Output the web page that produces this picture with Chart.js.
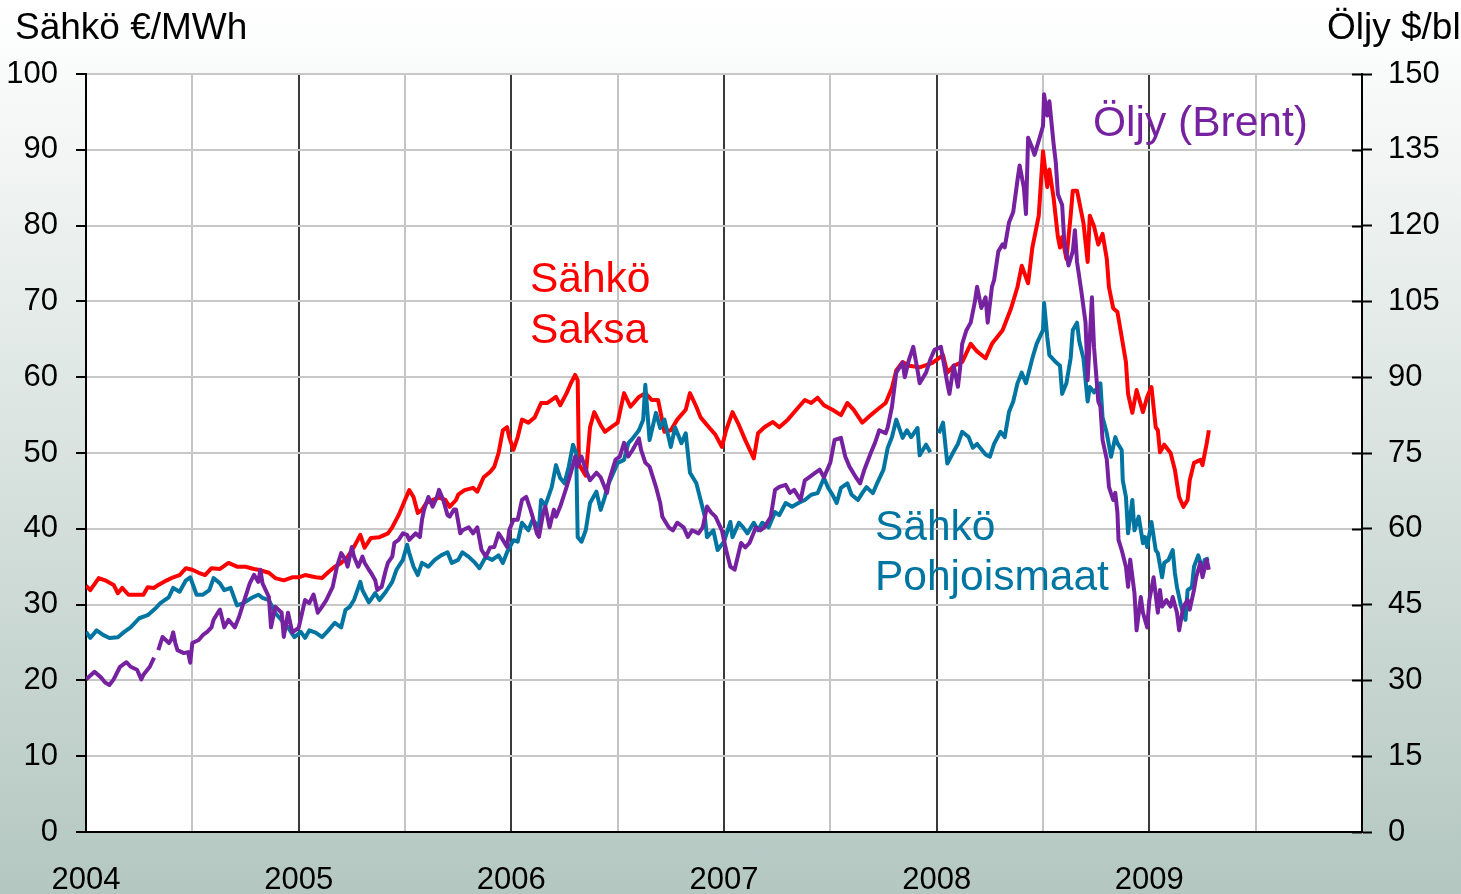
<!DOCTYPE html>
<html>
<head>
<meta charset="utf-8">
<script src="https://cdn.jsdelivr.net/npm/chart.js@4.4.1/dist/chart.umd.min.js"></script>
<style>
  html, body { margin: 0; padding: 0; }
  body {
    width: 1461px; height: 894px; overflow: hidden;
    background: linear-gradient(to bottom, #ffffff 0%, #b4c7c1 100%);
  }
</style>
</head>
<body>
<canvas id="kaavio" width="1461" height="894"></canvas>
<script>
// Sähkö Saksa, €/MWh
const saksaVuodet = [2004.00,2004.02,2004.06,2004.09,2004.13,2004.15,2004.17,2004.20,2004.24,2004.27,2004.29,2004.32,2004.34,2004.38,2004.41,2004.44,2004.47,2004.50,2004.53,2004.56,2004.59,2004.63,2004.67,2004.71,2004.75,2004.79,2004.81,2004.86,2004.89,2004.93,2004.97,
  2005.00,2005.03,2005.08,2005.11,2005.14,2005.17,2005.20,2005.23,2005.26,2005.29,2005.31,2005.34,2005.38,2005.42,2005.44,2005.47,2005.50,2005.52,2005.54,2005.56,2005.58,2005.60,2005.63,2005.66,2005.69,2005.71,2005.74,2005.75,2005.78,2005.82,2005.84,2005.87,2005.90,2005.92,2005.94,2005.96,2005.98,2005.99,
  2006.01,2006.03,2006.05,2006.08,2006.11,2006.14,2006.17,2006.21,2006.23,2006.26,2006.28,2006.30,2006.312,2006.318,2006.35,2006.37,2006.39,2006.42,2006.44,2006.47,2006.50,2006.53,2006.56,2006.60,2006.63,2006.66,2006.69,2006.72,2006.75,2006.78,2006.82,2006.84,2006.87,2006.89,2006.92,2006.96,2006.99,
  2007.01,2007.04,2007.07,2007.10,2007.14,2007.16,2007.19,2007.23,2007.26,2007.30,2007.34,2007.38,2007.41,2007.44,2007.47,2007.51,2007.55,2007.58,2007.61,2007.65,2007.69,2007.72,2007.76,2007.79,2007.81,2007.84,2007.87,2007.92,2007.98,
  2008.03,2008.05,2008.08,2008.12,2008.16,2008.19,2008.23,2008.26,2008.31,2008.35,2008.38,2008.40,2008.43,2008.45,2008.48,2008.50,2008.52,2008.53,2008.55,2008.57,2008.58,2008.59,2008.61,2008.63,2008.64,2008.66,2008.69,2008.71,2008.72,2008.74,2008.76,2008.78,2008.80,2008.81,2008.83,2008.85,2008.87,2008.89,2008.90,2008.92,2008.94,2008.97,2008.99,
  2009.01,2009.03,2009.04,2009.05,2009.07,2009.10,2009.12,2009.14,2009.16,2009.18,2009.19,2009.21,2009.24,2009.25,2009.27,2009.28];
const saksaArvot = [32.5,31.9,33.5,33.2,32.6,31.5,32.2,31.3,31.3,31.3,32.3,32.2,32.6,33.2,33.6,33.9,34.8,34.6,34.2,33.9,34.8,34.7,35.5,35.0,35.0,34.7,34.6,34.2,33.5,33.2,33.6,
  33.6,33.9,33.6,33.5,34.3,35.0,35.5,36.3,37.6,39.2,37.5,38.8,38.9,39.4,40.2,41.8,43.8,45.1,44.2,42.1,42.5,43.4,43.8,44.1,43.8,42.9,43.8,44.5,45.1,45.4,44.9,46.8,47.5,48.2,50.0,53.0,53.4,52.1,
  50.4,52.1,54.4,54.0,54.7,56.6,56.6,57.4,56.3,57.9,59.2,60.3,59.6,48.5,47.0,53.4,55.4,53.7,52.8,53.4,54.0,57.9,56.1,57.4,57.9,57.0,57.0,52.8,53.0,54.4,55.7,57.9,56.1,54.7,53.7,52.4,50.8,
  53.0,55.4,53.7,51.7,49.3,52.6,53.4,54.1,53.4,54.4,55.7,57.0,56.6,57.3,56.3,55.7,55.0,56.6,55.7,54.0,55.0,55.7,56.6,58.6,60.9,62.0,61.5,61.3,61.9,
  62.9,60.6,61.5,62.0,64.4,63.4,62.5,64.4,66.2,69.1,71.9,74.7,72.4,77.1,81.3,89.8,85.1,87.4,83.6,78.5,77.1,78.5,75.6,81.3,84.6,84.6,80.4,75.2,81.3,79.9,77.5,78.9,75.6,71.9,69.1,68.6,65.3,62.0,57.8,55.3,58.3,55.4,57.4,
  58.7,53.4,53.0,50.1,51.1,50.0,47.8,44.2,42.9,43.8,46.4,48.7,49.1,48.4,51.3,53.0];

// Sähkö Pohjoismaat, €/MWh
const pohjoisVuodet = [2004.00,2004.02,2004.05,2004.08,2004.11,2004.15,2004.18,2004.21,2004.25,2004.29,2004.33,2004.35,2004.39,2004.41,2004.44,2004.47,2004.49,2004.52,2004.55,2004.58,2004.60,2004.63,2004.65,2004.68,2004.71,2004.74,2004.78,2004.81,2004.83,2004.86,2004.89,2004.93,2004.95,2004.98,
  2005.01,2005.03,2005.05,2005.08,2005.11,2005.14,2005.17,2005.20,2005.22,2005.24,2005.26,2005.29,2005.30,2005.33,2005.36,2005.38,2005.41,2005.44,2005.46,2005.49,2005.51,2005.52,2005.54,2005.56,2005.58,2005.61,2005.64,2005.67,2005.70,2005.72,2005.75,2005.77,2005.80,2005.83,2005.85,2005.88,2005.91,2005.94,2005.96,2005.98,
  2006.01,2006.03,2006.05,2006.08,2006.10,2006.13,2006.14,2006.16,2006.19,2006.21,2006.23,2006.25,2006.27,2006.29,2006.305,2006.312,2006.33,2006.35,2006.37,2006.40,2006.42,2006.44,2006.45,2006.48,2006.50,2006.53,2006.55,2006.57,2006.60,2006.62,2006.63,2006.65,2006.68,2006.70,2006.72,2006.75,2006.77,2006.80,2006.82,2006.84,2006.87,2006.89,2006.91,2006.92,2006.95,2006.97,
  2007.00,2007.03,2007.04,2007.07,2007.09,2007.11,2007.14,2007.16,2007.18,2007.21,2007.24,2007.26,2007.29,2007.32,2007.35,2007.38,2007.41,2007.44,2007.47,2007.49,2007.51,2007.53,2007.55,2007.58,2007.60,2007.63,2007.65,2007.67,2007.70,2007.72,2007.75,2007.77,2007.79,2007.81,2007.84,2007.86,2007.88,2007.91,2007.92,2007.95,2007.97,2007.99,
  2008.01,2008.03,2008.05,2008.08,2008.10,2008.12,2008.15,2008.17,2008.19,2008.23,2008.25,2008.27,2008.30,2008.32,2008.34,2008.36,2008.38,2008.40,2008.42,2008.45,2008.47,2008.50,2008.505,2008.52,2008.53,2008.56,2008.58,2008.59,2008.61,2008.63,2008.64,2008.66,2008.67,2008.69,2008.71,2008.72,2008.74,2008.77,2008.78,2008.80,2008.82,2008.84,2008.85,2008.87,2008.875,2008.89,2008.90,2008.92,2008.93,2008.95,2008.97,2008.98,2008.99,
  2009.01,2009.03,2009.04,2009.06,2009.07,2009.09,2009.11,2009.12,2009.13,2009.15,2009.17,2009.18,2009.20,2009.21,2009.23,2009.25,2009.26,2009.28];
const pohjoisArvot = [26.4,25.6,26.6,26.0,25.6,25.7,26.4,27.0,28.2,28.6,29.6,30.2,31.0,32.2,31.7,33.2,33.6,31.3,31.3,31.9,33.5,32.8,31.9,32.2,29.9,30.2,30.9,31.3,30.9,30.6,28.9,27.6,27.0,25.7,
  26.4,25.6,26.6,26.3,25.7,26.6,27.6,27.0,29.3,29.7,30.6,33.0,31.9,30.3,31.5,30.6,31.7,33.0,34.6,35.9,37.9,36.8,35.0,33.9,35.5,35.0,35.9,36.5,36.9,35.5,35.9,36.9,36.3,35.5,34.8,36.3,35.9,36.5,35.5,36.9,
  38.5,38.3,40.8,39.8,41.2,40.2,43.8,43.1,45.5,48.4,46.7,46.0,48.2,51.1,50.0,38.9,38.3,39.8,43.4,44.9,42.5,44.2,45.5,47.4,48.7,49.1,51.3,51.9,53.0,54.4,59.0,51.7,55.3,53.3,54.4,50.8,53.4,51.3,52.6,47.4,46.0,43.8,41.6,38.9,39.8,37.2,
  38.3,40.9,38.9,40.8,40.2,39.4,40.8,39.8,40.8,40.2,42.2,41.8,43.4,42.9,43.4,43.8,44.5,44.7,46.7,45.4,44.5,43.4,45.4,46.0,44.5,43.8,44.7,45.5,44.7,46.0,47.8,50.7,52.1,54.4,52.0,53.0,52.1,53.3,49.7,51.1,50.1,null,
  52.6,54.0,48.6,50.2,51.2,52.8,52.1,50.7,51.2,49.8,49.5,51.2,52.8,52.1,55.4,56.8,59.2,60.6,59.2,62.5,64.4,66.2,69.8,65.3,62.9,62.0,61.5,57.8,59.2,62.5,66.2,67.2,64.8,62.5,56.8,58.7,58.0,59.2,54.7,52.6,49.5,52.1,51.3,50.4,46.4,44.2,39.4,43.8,39.8,41.6,38.1,38.9,37.6,
  40.9,37.2,36.8,33.6,35.5,35.9,37.2,34.2,32.3,29.7,28.0,31.9,32.3,35.0,36.5,34.6,35.9,36.1];

// Öljy (Brent), $/bl
const oljyVuodet = [2004.00,2004.04,2004.07,2004.09,2004.11,2004.13,2004.16,2004.19,2004.21,2004.24,2004.26,2004.27,2004.30,2004.32,2004.33,2004.34,2004.36,2004.39,2004.40,2004.41,2004.42,2004.43,2004.46,2004.48,2004.49,2004.50,2004.53,2004.55,2004.57,2004.59,2004.60,2004.62,2004.63,2004.65,2004.67,2004.70,2004.72,2004.74,2004.77,2004.79,2004.81,2004.82,2004.83,2004.86,2004.87,2004.89,2004.92,2004.93,2004.95,2004.97,
  2005.00,2005.03,2005.05,2005.07,2005.09,2005.11,2005.13,2005.16,2005.18,2005.20,2005.22,2005.23,2005.25,2005.26,2005.28,2005.30,2005.31,2005.33,2005.34,2005.36,2005.37,2005.39,2005.41,2005.42,2005.44,2005.45,2005.47,2005.49,2005.51,2005.52,2005.55,2005.57,2005.58,2005.59,2005.61,2005.63,2005.65,2005.66,2005.68,2005.70,2005.71,2005.73,2005.74,2005.76,2005.77,2005.80,2005.82,2005.84,2005.86,2005.88,2005.90,2005.92,2005.94,2005.96,2005.98,2005.99,
  2006.01,2006.03,2006.05,2006.07,2006.09,2006.10,2006.12,2006.13,2006.15,2006.16,2006.18,2006.20,2006.21,2006.23,2006.26,2006.28,2006.30,2006.31,2006.33,2006.35,2006.37,2006.40,2006.42,2006.45,2006.46,2006.49,2006.51,2006.53,2006.55,2006.57,2006.60,2006.61,2006.63,2006.65,2006.68,2006.70,2006.71,2006.74,2006.76,2006.78,2006.81,2006.83,2006.85,2006.88,2006.90,2006.92,2006.94,2006.96,2006.99,
  2007.01,2007.03,2007.05,2007.08,2007.10,2007.12,2007.15,2007.17,2007.19,2007.22,2007.24,2007.26,2007.29,2007.31,2007.33,2007.36,2007.38,2007.40,2007.43,2007.45,2007.47,2007.50,2007.52,2007.55,2007.57,2007.59,2007.62,2007.64,2007.66,2007.69,2007.71,2007.73,2007.76,2007.77,2007.79,2007.81,2007.84,2007.85,2007.87,2007.89,2007.91,2007.92,2007.95,2007.97,2007.99,
  2008.02,2008.05,2008.06,2008.08,2008.10,2008.11,2008.12,2008.14,2008.16,2008.18,2008.19,2008.21,2008.23,2008.24,2008.26,2008.27,2008.29,2008.31,2008.32,2008.34,2008.36,2008.38,2008.39,2008.41,2008.42,2008.43,2008.45,2008.46,2008.48,2008.50,2008.505,2008.52,2008.53,2008.55,2008.56,2008.57,2008.59,2008.60,2008.62,2008.64,2008.65,2008.66,2008.68,2008.70,2008.71,2008.73,2008.74,2008.76,2008.77,2008.78,2008.80,2008.81,2008.83,2008.84,2008.85,2008.855,2008.87,2008.89,2008.90,2008.91,2008.93,2008.94,2008.96,2008.97,2008.99,
  2009.00,2009.02,2009.04,2009.05,2009.06,2009.08,2009.10,2009.11,2009.13,2009.14,2009.16,2009.18,2009.19,2009.21,2009.22,2009.24,2009.25,2009.27,2009.28];
const oljyArvot = [30.2,31.7,30.6,29.6,29.1,30.2,32.7,33.6,32.7,32.1,30.2,31.1,32.7,34.5,null,36.0,38.6,37.4,38.0,39.5,37.4,36.0,35.4,35.6,33.5,37.4,38.0,39.0,39.6,40.5,42.0,43.4,44.0,40.5,42.0,40.5,42.6,45.3,49.2,50.9,49.5,51.9,49.2,46.5,40.5,44.6,43.4,38.6,43.4,39.5,
  40.4,45.9,45.3,47.0,43.4,44.6,45.9,48.5,52.5,55.2,53.9,52.5,56.4,54.5,52.5,54.5,53.3,51.9,51.3,49.8,47.9,48.5,51.9,53.3,54.5,57.2,57.8,59.1,58.8,57.8,59.1,58.4,61.8,63.8,66.3,64.4,66.3,67.7,65.7,62.7,62.4,63.8,63.8,59.1,59.7,60.3,59.1,60.3,55.8,54.5,56.3,56.4,59.1,57.8,56.4,59.7,
  61.8,61.8,65.7,66.3,63.8,62.4,59.1,58.4,63.2,64.4,60.3,63.8,62.4,64.4,68.3,71.1,74.3,72.3,74.3,71.7,69.6,71.1,70.2,67.1,69.6,73.7,74.3,77.0,74.3,75.6,77.9,75.6,73.1,72.3,68.3,65.1,62.4,60.3,59.7,61.2,60.3,58.4,59.7,59.1,60.3,64.4,63.2,62.4,59.7,
  55.8,52.5,51.9,57.2,56.3,57.2,60.3,59.7,60.3,62.4,67.7,68.3,68.7,67.1,67.7,65.7,69.6,70.2,71.1,71.7,70.2,73.1,77.6,78.0,74.3,72.3,70.2,69.0,71.7,75.0,77.0,79.5,78.9,80.1,84.2,90.9,92.9,90.0,93.5,96.0,91.4,88.8,90.9,93.5,95.4,
  96.0,88.8,86.7,92.3,88.1,91.7,96.6,99.3,100.8,105.0,107.9,103.7,105.8,100.8,107.9,109.2,114.9,116.3,115.7,120.6,122.7,129.0,131.9,127.5,122.3,137.4,135.3,134.0,136.8,139.7,146.0,141.8,144.6,136.1,132.6,126.2,124.1,117.0,112.1,114.9,119.1,112.8,107.1,100.8,89.4,105.8,95.9,85.2,84.2,77.6,73.7,68.3,65.7,67.1,63.2,57.8,55.8,52.5,48.5,53.9,47.3,39.9,46.5,43.4,40.5,
  45.9,50.4,43.4,47.9,44.6,45.9,44.6,46.5,43.4,39.9,44.6,45.9,44.0,47.9,50.4,53.3,50.4,53.9,51.9];

// akselien jaot
const vasenMin = 0, vasenMax = 100, vasenVali = 10;
const oikeaMin = 0, oikeaMax = 150, oikeaVali = 15;
const vuosiAlku = 2004, vuosiLoppu = 2010;

const FONTTI = '"Liberation Sans", Arial, sans-serif';
const PUNAINEN = '#ff0000';
const SININEN = '#0075a2';
const VIOLETTI = '#7622a0';

function pisteet(vuodet, arvot) {
  return vuodet.map((v, i) => ({ x: v, y: arvot[i] }));
}

const tekstit = {
  id: 'tekstit',
  beforeDraw(chart) {
    const { ctx, chartArea: a } = chart;
    ctx.save();
    ctx.fillStyle = '#ffffff';
    ctx.fillRect(a.left, a.top, a.right - a.left, a.bottom - a.top);
    ctx.restore();
  },
  afterDraw(chart) {
    const { ctx, chartArea: a } = chart;
    const y1 = chart.scales.y1;
    ctx.save();
    // oikean akselin sisäpuoliset jakoviivat
    ctx.strokeStyle = '#000';
    ctx.lineWidth = 2;
    y1.ticks.forEach(t => {
      const y = Math.round(y1.getPixelForValue(t.value)) + 0.5;
      ctx.beginPath();
      ctx.moveTo(a.right - 10, y);
      ctx.lineTo(a.right, y);
      ctx.stroke();
    });
    ctx.textBaseline = 'alphabetic';
    ctx.fillStyle = '#000';
    ctx.font = '37px ' + FONTTI;
    ctx.fillText('Sähkö €/MWh', 15, 39);
    ctx.fillText('Öljy $/bl', 1327, 39);
    ctx.font = '42.5px ' + FONTTI;
    ctx.fillStyle = PUNAINEN;
    ctx.fillText('Sähkö', 530, 292);
    ctx.fillText('Saksa', 530, 343);
    ctx.fillStyle = SININEN;
    ctx.fillText('Sähkö', 875, 540);
    ctx.fillText('Pohjoismaat', 875, 590);
    ctx.fillStyle = VIOLETTI;
    ctx.fillText('Öljy (Brent)', 1093, 136);
    ctx.restore();
  }
};

const viiva = (nimi, data, vari, akseli) => ({
  label: nimi, data: data, yAxisID: akseli,
  borderColor: vari, borderWidth: 4, pointRadius: 0, tension: 0, fill: false,
  borderJoinStyle: 'round'
});

new Chart(document.getElementById('kaavio').getContext('2d'), {
  type: 'line',
  data: {
    datasets: [
      viiva('Öljy (Brent)', pisteet(oljyVuodet, oljyArvot), VIOLETTI, 'y1'),
      viiva('Sähkö Pohjoismaat', pisteet(pohjoisVuodet, pohjoisArvot), SININEN, 'y'),
      viiva('Sähkö Saksa', pisteet(saksaVuodet, saksaArvot), PUNAINEN, 'y')
    ]
  },
  options: {
    responsive: false,
    animation: false,
    layout: { padding: { top: 74, left: 0, right: 0, bottom: 0 } },
    plugins: { legend: { display: false }, tooltip: { enabled: false } },
    scales: {
      x: {
        type: 'linear', min: vuosiAlku, max: vuosiLoppu,
        afterFit: s => { s.height = 62; },
        ticks: {
          stepSize: 0.5, autoSkip: false, maxRotation: 0, padding: 30,
          color: '#000', font: { family: FONTTI, size: 31 },
          callback: v => (Number.isInteger(v) && v < vuosiLoppu) ? String(v) : ''
        },
        grid: {
          color: c => Number.isInteger(c.tick.value) ? '#3a3a3a' : '#c4c4c4',
          lineWidth: 2, drawTicks: false
        },
        border: { color: '#000', width: 2 }
      },
      y: {
        position: 'left', min: vasenMin, max: vasenMax,
        afterFit: s => { s.width = 86; },
        ticks: { stepSize: vasenVali, padding: 18, color: '#000', font: { family: FONTTI, size: 31 } },
        grid: { color: '#c8c8c8', lineWidth: 2, tickLength: 10, tickColor: '#000', tickWidth: 2 },
        border: { color: '#000', width: 2 }
      },
      y1: {
        position: 'right', min: oikeaMin, max: oikeaMax,
        afterFit: s => { s.width = 99; },
        ticks: { stepSize: oikeaVali, padding: 16, color: '#000', font: { family: FONTTI, size: 31 } },
        grid: { drawOnChartArea: false, tickLength: 10, tickColor: '#000', tickWidth: 2 },
        border: { color: '#000', width: 2 }
      }
    }
  },
  plugins: [tekstit]
});
</script>
</body>
</html>
